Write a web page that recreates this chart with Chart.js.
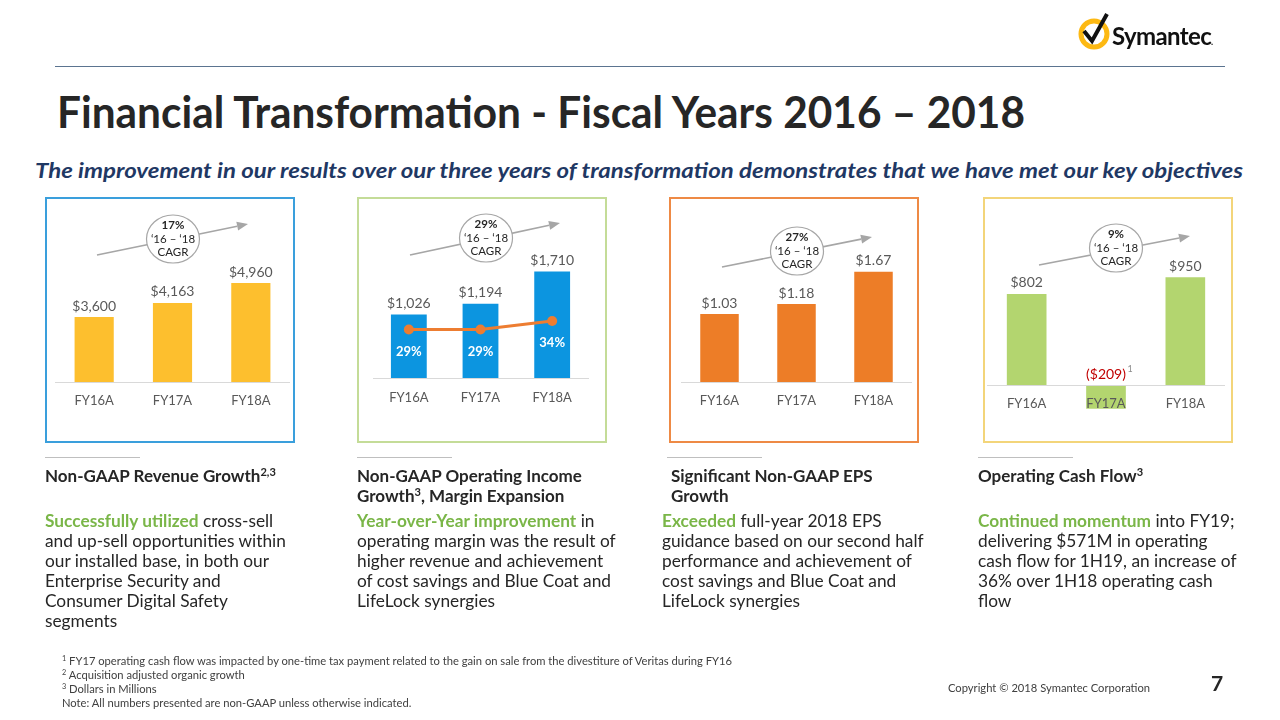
<!DOCTYPE html>
<html>
<head>
<meta charset="utf-8">
<title>Financial Transformation - Fiscal Years 2016 – 2018</title>
<script src="https://cdn.jsdelivr.net/npm/chart.js@4.4.0/dist/chart.umd.min.js"></script>
<style>
  html, body { margin: 0; padding: 0; background: #fff; }
  body { width: 1280px; height: 720px; position: relative; overflow: hidden;
         font-family: Lato, 'Open Sans', sans-serif; color: #262626; }
  .abs { position: absolute; white-space: nowrap; }
  .topRule { position: absolute; left: 55px; top: 66px; width: 1170px; height: 1px; background: #5b7490; }
  .title { left: 57px; top: 86px; font-size: 44px; line-height: 50px; font-weight: 700; color: #262626; transform-origin: 0 50%; }
  .subtitle { left: 35px; top: 158px; font-size: 21px; line-height: 24px; font-weight: 700; font-style: italic; color: #1f3864; transform-origin: 0 50%; }
  .panel { position: absolute; top: 197px; height: 246px; box-sizing: border-box; border: 2px solid; }
  .chartBox { position: absolute; top: 200px; height: 220px; }
  .smallRule { position: absolute; top: 457px; width: 95px; height: 1px; background: #bfbfbf; }
  .head { position: absolute; top: 466px; font-size: 17px; line-height: 20px; font-weight: 700; color: #262626; white-space: nowrap; }
  .body { position: absolute; top: 511px; font-size: 17.3px; line-height: 20px; color: #262626; white-space: nowrap; }
  .green { color: #7ab648; font-weight: 700; }
  sup { font-size: 0.65em; line-height: 0; vertical-align: 0.5em; }
  .notes { left: 62px; top: 654px; font-size: 11.2px; line-height: 14px; color: #404040; }
  .copy { left: 948px; top: 680px; font-size: 11.2px; line-height: 16px; color: #404040; }
  .page { left: 1211px; top: 670px; font-size: 21px; line-height: 26px; font-weight: 700; color: #262626; }
  svg.overlay { position: absolute; left: 0; top: 0; }
</style>
</head>
<body>
<div class="topRule"></div>
<div class="abs title" id="title">Financial Transformation - Fiscal Years 2016 – 2018</div>
<div class="abs subtitle" id="subtitle">The improvement in our results over our three years of transformation demonstrates that we have met our key objectives</div>

<div class="panel" style="left:45px;width:250px;border-color:#3a9fdc"></div>
<div class="panel" style="left:357px;width:250px;border-color:#c4dc98"></div>
<div class="panel" style="left:669px;width:250px;border-color:#ee8a45"></div>
<div class="panel" style="left:983px;width:250px;border-color:#f3d57a"></div>

<div class="chartBox" style="left:55px;width:235px"><canvas id="revChart"></canvas></div>
<div class="chartBox" style="left:368px;width:225px"><canvas id="opChart"></canvas></div>
<div class="chartBox" style="left:681px;width:231px"><canvas id="epsChart"></canvas></div>
<div class="chartBox" style="left:987px;width:238px"><canvas id="cashChart"></canvas></div>

<svg class="overlay" id="overlay" width="1280" height="720"></svg>

<div class="smallRule" style="left:45px"></div>
<div class="smallRule" style="left:357px"></div>
<div class="smallRule" style="left:667px"></div>
<div class="smallRule" style="left:978px"></div>

<div class="head" style="left:45px">Non-GAAP Revenue Growth<sup>2,3</sup></div>
<div class="body" style="left:45px"><span class="green">Successfully utilized</span> cross-sell<br>and up-sell opportunities within<br>our installed base, in both our<br>Enterprise Security and<br>Consumer Digital Safety<br>segments</div>

<div class="head" style="left:357px">Non-GAAP Operating Income<br>Growth<sup>3</sup>, Margin Expansion</div>
<div class="body" style="left:357px"><span class="green">Year-over-Year improvement</span> in<br>operating margin was the result of<br>higher revenue and achievement<br>of cost savings and Blue Coat and<br>LifeLock synergies</div>

<div class="head" style="left:671px">Significant Non-GAAP EPS<br>Growth</div>
<div class="body" style="left:662px"><span class="green">Exceeded</span> full-year 2018 EPS<br>guidance based on our second half<br>performance and achievement of<br>cost savings and Blue Coat and<br>LifeLock synergies</div>

<div class="head" style="left:978px">Operating Cash Flow<sup>3</sup></div>
<div class="body" style="left:978px"><span class="green">Continued momentum</span> into FY19;<br>delivering $571M in operating<br>cash flow for 1H19, an increase of<br>36% over 1H18 operating cash<br>flow</div>

<div class="abs notes"><sup>1</sup> FY17 operating cash flow was impacted by one-time tax payment related to the gain on sale from the divestiture of Veritas during FY16<br><sup>2</sup> Acquisition adjusted organic growth<br><sup>3</sup> Dollars in Millions<br>Note: All numbers presented are non-GAAP unless otherwise indicated.</div>
<div class="abs copy">Copyright © 2018 Symantec Corporation</div>
<div class="abs page">7</div>

<script>
'use strict';

function byId(id) { return document.getElementById(id); }

// data
const years = ['FY16A', 'FY17A', 'FY18A'];
const revenue = [3600, 4163, 4960];
const opIncome = [1026, 1194, 1710];
const opMargin = [29, 29, 34];
const eps = [1.03, 1.18, 1.67];
const cashFlow = [802, -209, 950];
const cagrRates = ['17%', '29%', '27%', '9%'];
const cagrSpan = '\u201816 \u2013 \u201818';

const labelFont = { family: 'Lato', size: 13 };
const valueColor = '#595959';

function money(v) {
  if (v < 0) return '($' + Math.abs(v).toLocaleString('en-US') + ')';
  return '$' + v.toLocaleString('en-US');
}
function dollars(v) { return '$' + v.toFixed(2); }

// scale range that puts value `base` at page pixel `basePx` with `k` px per unit
// (chart canvas sits from y=200 to y=420 on the page)
function range(basePx, k, base) {
  return { min: base - (420 - basePx) / k, max: base + (basePx - 200) / k };
}

// value labels above bars, red label for negative bar
const barLabels = {
  id: 'barLabels',
  afterDatasetsDraw(chart, args, opts) {
    const ctx = chart.ctx;
    const meta = chart.getDatasetMeta(0);
    const data = chart.data.datasets[0].data;
    ctx.save();
    ctx.textAlign = 'center';
    ctx.textBaseline = 'middle';
    ctx.font = '14px Lato';
    meta.data.forEach((bar, i) => {
      const v = data[i];
      if (v < 0) {
        ctx.fillStyle = '#c00000';
        ctx.fillText(opts.format(v), bar.x, bar.base - 11);
        ctx.fillStyle = '#8c8c8c';
        ctx.font = '9px Lato';
        ctx.fillText('1', bar.x + 24, bar.base - 16);
        ctx.font = '14px Lato';
      } else {
        ctx.fillStyle = valueColor;
        ctx.fillText(opts.format(v), bar.x, bar.y - 11);
      }
    });
    // margin % labels inside bars
    if (chart.data.datasets.length > 1) {
      const lineMeta = chart.getDatasetMeta(1);
      const pct = chart.data.datasets[1].data;
      ctx.fillStyle = '#fff';
      ctx.font = 'bold 13px Lato';
      lineMeta.data.forEach((pt, i) => {
        ctx.fillText(pct[i] + '%', pt.x, pt.y + 22);
      });
    }
    ctx.restore();
  }
};

function xAxis(baseValue, padding) {
  return {
    position: { y: baseValue },
    offset: true,
    grid: { display: true, drawOnChartArea: false, drawTicks: false },
    border: { display: true, color: '#d9d9d9', width: 1, z: 1 },
    ticks: { color: valueColor, font: labelFont, padding: padding, z: 2 }
  };
}

function makeChart(id, datasets, yRange, baseValue, format, extraScales) {
  const scales = {
    x: xAxis(baseValue, 11),
    y: { display: false, min: yRange.min, max: yRange.max }
  };
  Object.assign(scales, extraScales || {});
  return new Chart(byId(id), {
    type: 'bar',
    data: { labels: years, datasets: datasets },
    options: {
      responsive: true,
      maintainAspectRatio: false,
      animation: false,
      layout: { padding: 0 },
      plugins: { legend: { display: false }, tooltip: { enabled: false }, barLabels: { format: format } },
      scales: scales
    },
    plugins: [barLabels]
  });
}

function barSet(data, color, base) {
  return {
    type: 'bar', data: data, backgroundColor: color,
    base: base, barPercentage: 0.5, categoryPercentage: 1, order: 2
  };
}

function drawCharts() {
  makeChart('revChart', [barSet(revenue, '#fdbf2e', 1000)], range(382, 0.025, 1000), 1000, money);

  makeChart('opChart', [
    barSet(opIncome, '#0c95e0', 0),
    {
      type: 'line', data: opMargin, yAxisID: 'y1', order: 1,
      borderColor: '#ed7d31', backgroundColor: '#ed7d31', borderWidth: 3,
      pointRadius: 5, pointBackgroundColor: '#ed7d31', pointBorderWidth: 0
    }
  ], range(382, 0.0657, 0), 0, money, {
    y1: Object.assign({ display: false }, range(382, 1.78, 0))
  });

  makeChart('epsChart', [barSet(eps, '#ed7d27', 0)], range(382, 66, 0), 0, dollars);

  makeChart('cashChart', [barSet(cashFlow, '#b3d56f', 0)], range(385, 0.1135, 0), 0, money);
}

// CAGR arrows and bubbles, logo
const arrows = [
  { x1: 97, y1: 255, x2: 248, y2: 224, cx: 173, cy: 239 },
  { x1: 410, y1: 255, x2: 560, y2: 223, cx: 486, cy: 238 },
  { x1: 722, y1: 267, x2: 872, y2: 237, cx: 797, cy: 251 },
  { x1: 1039, y1: 265, x2: 1190, y2: 236, cx: 1116, cy: 248 }
];

function drawOverlay() {
  const svg = byId('overlay');
  let s = '';
  arrows.forEach((a, i) => {
    const ang = Math.atan2(a.y2 - a.y1, a.x2 - a.x1);
    const L = 11, W = 4.5;
    const bx = a.x2 - L * Math.cos(ang), by = a.y2 - L * Math.sin(ang);
    const px = -Math.sin(ang) * W, py = Math.cos(ang) * W;
    s += `<line x1="${a.x1}" y1="${a.y1}" x2="${bx}" y2="${by}" stroke="#a6a6a6" stroke-width="1.6"/>`;
    s += `<polygon points="${a.x2},${a.y2} ${bx + px},${by + py} ${bx - px},${by - py}" fill="#a6a6a6"/>`;
    s += `<ellipse cx="${a.cx}" cy="${a.cy}" rx="26.5" ry="24" fill="#fff" stroke="#a6a6a6" stroke-width="1.2"/>`;
    s += `<text x="${a.cx}" y="${a.cy - 13}" font-family="Lato" font-size="11.5" font-weight="bold" fill="#262626" text-anchor="middle" dominant-baseline="middle">${cagrRates[i]}</text>`;
    s += `<text x="${a.cx}" y="${a.cy + 1}" font-family="Lato" font-size="11.5" fill="#262626" text-anchor="middle" dominant-baseline="middle">${cagrSpan}</text>`;
    s += `<text x="${a.cx}" y="${a.cy + 14}" font-family="Lato" font-size="11.5" fill="#262626" text-anchor="middle" dominant-baseline="middle">CAGR</text>`;
  });
  // logo
  s += `<circle cx="1094" cy="34" r="13" fill="none" stroke="#fdb913" stroke-width="5"/>`;
  s += `<path d="M1084 31 L1092 41 L1107 14" fill="none" stroke="#111" stroke-width="4" stroke-linejoin="miter"/>`;
  s += `<text x="1112" y="45" font-family="Lato" font-size="24" font-weight="bold" fill="#111" letter-spacing="-0.6">Symantec</text>`;
  s += `<text x="1211" y="45" font-family="Lato" font-size="9" font-weight="bold" fill="#111">.</text>`;
  svg.innerHTML = s;
}

function fitWidth(el, w) {
  const r = el.getBoundingClientRect().width;
  el.style.transform = `scaleX(${w / r})`;
}

function init() {
  fitWidth(byId('title'), 968);
  fitWidth(byId('subtitle'), 1208);
  drawOverlay();
  drawCharts();
}

if (document.fonts && document.fonts.ready) {
  document.fonts.ready.then(init);
} else {
  window.addEventListener('load', init);
}
</script>
</body>
</html>
